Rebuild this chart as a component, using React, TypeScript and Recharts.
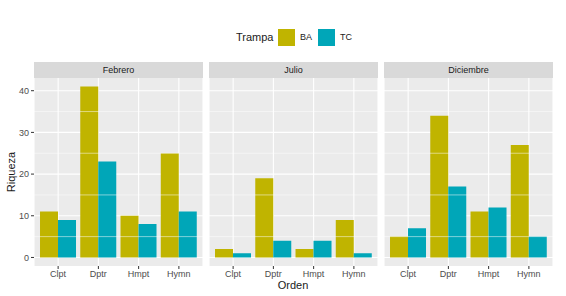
import { BarChart, Bar, XAxis, YAxis, CartesianGrid, ReferenceLine } from "recharts";

const ORDENES = ["Clpt", "Dptr", "Hmpt", "Hymn"];
const MESES = ["Febrero", "Julio", "Diciembre"];

const BA_FEBRERO = [11, 41, 10, 25];
const TC_FEBRERO = [9, 23, 8, 11];
const BA_JULIO = [2, 19, 2, 9];
const TC_JULIO = [1, 4, 4, 1];
const BA_DICIEMBRE = [5, 34, 11, 27];
const TC_DICIEMBRE = [7, 17, 12, 5];

const Y_TICKS = [0, 10, 20, 30, 40];
const Y_MINOR = [5, 15, 25, 35];

const BA_COLOR = "#C0B400";
const TC_COLOR = "#00A6B8";
const FONT = "'Liberation Sans', Arial, sans-serif";

const SERIES = [
  { ba: BA_FEBRERO, tc: TC_FEBRERO },
  { ba: BA_JULIO, tc: TC_JULIO },
  { ba: BA_DICIEMBRE, tc: TC_DICIEMBRE },
];

// panel geometry (ggplot facet layout)
const PANEL_LEFT = [34, 209, 384];
const PANEL_W = 169;
const PLOT_TOP = 78;
const PLOT_H = 188;
const STRIP_H = 16;
const YAXIS_W = 34;

function buildRows(ba: number[], tc: number[]) {
  return ORDENES.map((orden, i) => ({ orden, BA: ba[i], TC: tc[i] }));
}

function Panel({ index }: { index: number }) {
  const first = index === 0;
  const rows = buildRows(SERIES[index].ba, SERIES[index].tc);
  const left = first ? PANEL_LEFT[index] - YAXIS_W : PANEL_LEFT[index];
  const width = first ? PANEL_W + YAXIS_W : PANEL_W;
  const tick = { fontSize: 9, fill: "#4D4D4D", fontFamily: FONT };
  return (
    <div style={{ position: "absolute", left, top: PLOT_TOP }}>
      <BarChart
        width={width}
        height={PLOT_H + 22}
        data={rows}
        margin={{ top: 0, right: 0, left: 0, bottom: 0 }}
        barCategoryGap="5%"
        barGap={0}
      >
        <CartesianGrid fill="#EBEBEB" stroke="#FFFFFF" strokeWidth={1.1} horizontalValues={Y_TICKS} />
        {Y_MINOR.map((v) => (
          <ReferenceLine key={v} y={v} stroke="#FFFFFF" strokeWidth={0.5} />
        ))}
        <XAxis
          dataKey="orden"
          padding={{ left: 4, right: 4 }}
          axisLine={false}
          tickLine={{ stroke: "#333333" }}
          tickSize={3}
          tickMargin={2}
          height={22}
          tick={tick}
          interval={0}
        />
        <YAxis
          hide={!first}
          width={YAXIS_W}
          domain={[-2.05, 43.05]}
          ticks={Y_TICKS}
          allowDataOverflow
          axisLine={false}
          tickLine={{ stroke: "#333333" }}
          tickSize={3}
          tickMargin={2}
          tick={tick}
        />
        <Bar dataKey="BA" fill={BA_COLOR} isAnimationActive={false} />
        <Bar dataKey="TC" fill={TC_COLOR} isAnimationActive={false} />
      </BarChart>
      <div
        style={{
          position: "absolute",
          left: first ? YAXIS_W : 0,
          top: -STRIP_H,
          width: PANEL_W,
          height: STRIP_H,
          background: "#D9D9D9",
          color: "#1A1A1A",
          fontSize: 9,
          lineHeight: `${STRIP_H}px`,
          textAlign: "center",
          fontFamily: FONT,
        }}
      >
        {MESES[index]}
      </div>
    </div>
  );
}

function LegendKey({ left, color }: { left: number; color: string }) {
  return (
    <div
      style={{
        position: "absolute",
        left,
        top: 29,
        width: 17,
        height: 17,
        background: color,
      }}
    />
  );
}

export default function App() {
  const txt = { position: "absolute" as const, fontFamily: FONT, color: "#1A1A1A" };
  return (
    <div
      style={{
        position: "absolute",
        left: 0,
        top: 0,
        width: 566,
        height: 296,
        background: "#FFFFFF",
        overflow: "hidden",
      }}
    >
      {MESES.map((m, i) => (
        <Panel key={m} index={i} />
      ))}

      <div style={{ ...txt, left: 236, top: 30, fontSize: 11, lineHeight: "15px" }}>Trampa</div>
      <LegendKey left={278} color={BA_COLOR} />
      <div style={{ ...txt, left: 300, top: 32, fontSize: 9, lineHeight: "11px" }}>BA</div>
      <LegendKey left={318} color={TC_COLOR} />
      <div style={{ ...txt, left: 340, top: 32, fontSize: 9, lineHeight: "11px" }}>TC</div>

      <div style={{ ...txt, left: 268, top: 278, width: 50, textAlign: "center", fontSize: 11, lineHeight: "14px" }}>
        Orden
      </div>
      <div
        style={{
          ...txt,
          left: -14,
          top: 165,
          width: 50,
          textAlign: "center",
          fontSize: 11,
          lineHeight: "14px",
          transform: "rotate(-90deg)",
        }}
      >
        Riqueza
      </div>
    </div>
  );
}
